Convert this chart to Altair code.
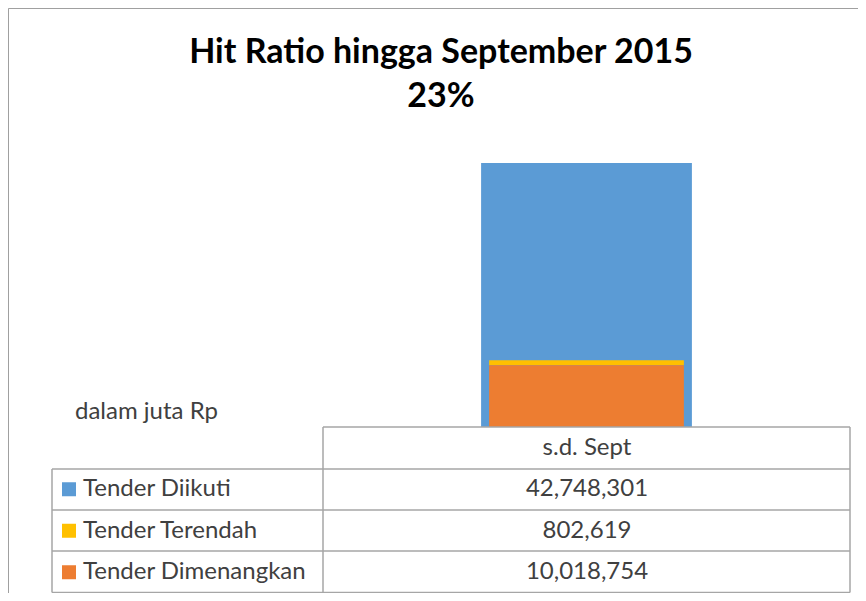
import altair as alt
import pandas as pd

# ---- data ----
series = ["Tender Diikuti", "Tender Terendah", "Tender Dimenangkan"]
values = [42748301, 802619, 10018754]
colors = ["#5B9BD5", "#FFC000", "#ED7D31"]
period = "s.d. Sept"
title_lines = ["Hit Ratio hingga September 2015", "23%"]
unit_note = "dalam juta Rp"

FONT = "Lato"
OFF = 8  # page margin

def px(v):
    return v - OFF

W, H = 850, 585

df = pd.DataFrame({"series": series, "value": values, "period": [period] * 3,
                   "order": [0, 2, 1], "color": colors})

x_band = alt.Scale(domain=[period], range=[px(323), px(850)], paddingInner=0, paddingOuter=0.75)
y_val = alt.Scale(domain=[0, values[0]], range=[px(427), px(163)])

blue = alt.Chart(df[df.series == series[0]]).mark_bar(color=colors[0]).encode(
    x=alt.X("period:N", scale=x_band, axis=None),
    y=alt.Y("value:Q", scale=y_val, axis=None),
)

stack_df = df[df.series != series[0]]
stacked = alt.Chart(stack_df).mark_bar(width=alt.RelativeBandSize(194 / 210)).encode(
    x=alt.X("period:N", scale=x_band, axis=None),
    y=alt.Y("value:Q", scale=y_val, axis=None, stack="zero"),
    color=alt.Color("series:N", scale=alt.Scale(domain=series, range=colors), legend=None),
    order=alt.Order("order:Q"),
)

# ---- data table ----
rows = ["__header__"] + series
row_scale = alt.Scale(domain=rows, range=[px(427), px(593)], paddingInner=0, paddingOuter=0)

TS = 24
header = alt.Chart(pd.DataFrame({"row": ["__header__"], "label": [period]})).mark_text(
    font=FONT, fontSize=TS, color="#404040", align="center", baseline="middle"
).encode(
    x=alt.value(px(587)),
    y=alt.Y("row:N", scale=row_scale, axis=None),
    text="label:N",
)

val_text = alt.Chart(df).transform_calculate(row="datum.series").mark_text(
    font=FONT, fontSize=TS, color="#404040", align="center", baseline="middle"
).encode(
    x=alt.value(px(587)),
    y=alt.Y("row:N", scale=row_scale, axis=None),
    text=alt.Text("value:Q", format=","),
)

lab_text = alt.Chart(df).transform_calculate(row="datum.series").mark_text(
    font=FONT, fontSize=TS, color="#404040", align="left", baseline="middle"
).encode(
    x=alt.value(px(83)),
    y=alt.Y("row:N", scale=row_scale, axis=None),
    text="series:N",
)

keys = alt.Chart(df).transform_calculate(row="datum.series").mark_square(
    size=196, opacity=1, filled=True
).encode(
    x=alt.value(px(69)),
    y=alt.Y("row:N", scale=row_scale, axis=None),
    color=alt.Color("series:N", scale=alt.Scale(domain=series, range=colors), legend=None),
)

# grid lines of the table (layout)
hlines = pd.DataFrame({
    "x": [px(323), px(52), px(52), px(52), px(52)],
    "x2": [px(850), px(850), px(850), px(850), px(850)],
    "y": [px(427), px(469), px(510), px(551), px(592.5)],
})
vlines = pd.DataFrame({
    "x": [px(52), px(323), px(850)],
    "y": [px(469), px(427), px(427)],
    "y2": [px(592.5), px(592.5), px(592.5)],
})
hrule = alt.Chart(hlines).mark_rule(color="#A6A6A6", strokeWidth=1.5).encode(
    x=alt.X("x:Q", scale=None), x2="x2:Q", y=alt.Y("y:Q", scale=None))
vrule = alt.Chart(vlines).mark_rule(color="#A6A6A6", strokeWidth=1.5).encode(
    x=alt.X("x:Q", scale=None), y=alt.Y("y:Q", scale=None), y2="y2:Q")

# outer chart border (left and top)
border = alt.Chart(pd.DataFrame({"x": [0.5, 0.5], "x2": [0.5, W], "y": [0.5, 0.5], "y2": [H, 0.5]})).mark_rule(
    color="#A0A0A0", strokeWidth=1).encode(
    x=alt.X("x:Q", scale=None), x2="x2:Q", y=alt.Y("y:Q", scale=None), y2="y2:Q")

# titles
title_df = pd.DataFrame({"t": title_lines, "yy": [px(53), px(97)]})
titles = alt.Chart(title_df).mark_text(
    font=FONT, fontSize=34, fontWeight="bold", color="#000000", align="center", baseline="middle"
).encode(
    x=alt.value(px(441)),
    y=alt.Y("yy:Q", scale=None),
    text="t:N",
)

note = alt.Chart(pd.DataFrame({"t": [unit_note]})).mark_text(
    font=FONT, fontSize=TS, color="#404040", align="left", baseline="middle"
).encode(
    x=alt.value(px(75)),
    y=alt.value(px(412)),
    text="t:N",
)

bars = alt.layer(blue, stacked)
table = alt.layer(header, val_text, lab_text, keys)

chart = alt.layer(bars, table, hrule, vrule, border, titles, note).resolve_scale(
    x="independent", y="independent", color="independent"
).properties(
    width=W, height=H, padding=0, autosize=alt.AutoSizeParams(type="none")
).configure_view(stroke=None).configure(background="white")

chart.save("out.html", embed_options={"renderer": "svg", "actions": False})
